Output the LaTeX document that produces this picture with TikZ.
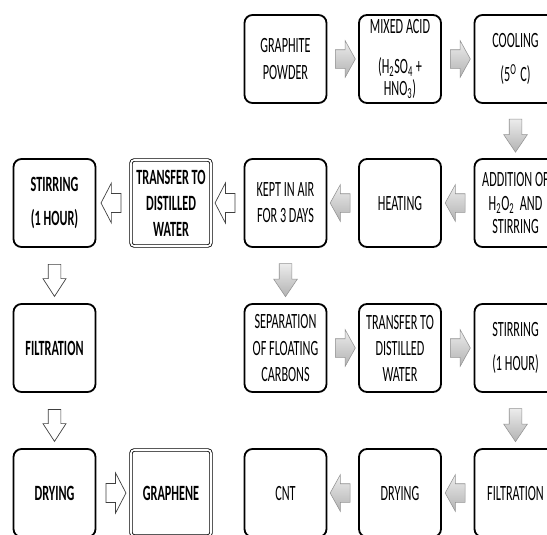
\documentclass[tikz,border=0pt]{standalone}
\usepackage{fontspec}
\setmainfont{Carlito}[FakeStretch=0.56]
\usepackage{tikz}
\usetikzlibrary{shapes.arrows,calc}
\tikzset{stage/.style={draw,line width=1.3pt,rounded corners=2mm,fill=white,minimum width=20.5mm,minimum height=22mm,align=center,inner sep=1pt,font=\fontsize{15.5}{18.5}\selectfont},result/.style={stage,font=\fontsize{15.5}{18.5}\selectfont\bfseries},framed/.style={result,line width=.6pt,double,double distance=1.2pt,rounded corners=.8mm,minimum width=20mm,minimum height=21.5mm},grayflow/.style={single arrow,draw=gray!85,top color=gray!15,bottom color=gray!60,inner xsep=0pt,inner ysep=2.25mm,single arrow head extend=2.25mm,single arrow tip angle=122,minimum height=5mm},grayfall/.style={grayflow,rotate=-90,inner ysep=1.5mm,single arrow head extend=1.4mm,single arrow tip angle=68,minimum height=8.25mm},plainflow/.style={single arrow,draw=black!75,fill=white,line width=.5pt,inner xsep=0pt,inner ysep=2.3mm,single arrow head extend=2.6mm,single arrow tip angle=125,minimum height=5mm},plainfall/.style={plainflow,rotate=-90,inner ysep=1.5mm,single arrow head extend=1.3mm,single arrow tip angle=66,minimum height=8mm}}
\begin{document}
\begin{tikzpicture}[x=0.25mm,y=-0.25mm]
\useasboundingbox (0,0) rectangle (547,534);
\clip (0,0) rectangle (547,534);
\node[stage] (graphite) at (285.5,59) {GRAPHITE\\POWDER};
\node[stage] (mixacid) at (400,59) {MIXED ACID\\[10pt](H\textsubscript{2}SO\textsubscript{4} +\\[-3pt]HNO\textsubscript{3})};
\node[stage] (cooling) at (515.5,59) {COOLING\\[6pt](5\textsuperscript{O}\,C)};
\node[stage] (addition) at (515.5,203) {ADDITION OF\\[-2pt]H\textsubscript{2}O\textsubscript{2}\ \ AND\\[-2pt]STIRRING};
\node[stage] (heating) at (400,203) {HEATING};
\node[stage] (keptair) at (285.5,203) {KEPT IN AIR\\FOR 3 DAYS};
\node[framed] (transfer) at (171,203) {TRANSFER TO\\DISTILLED\\WATER};
\node[result] (stirring) at (54.5,203) {STIRRING\\[6pt](1 HOUR)};
\node[result] (filtration) at (54.5,348) {FILTRATION};
\node[result] (drying) at (54.5,493) {DRYING};
\node[framed] (graphene) at (171,493) {GRAPHENE};
\node[stage] (separation) at (285.5,348) {SEPARATION\\OF FLOATING\\CARBONS};
\node[stage] (transferb) at (400,348) {TRANSFER TO\\DISTILLED\\WATER};
\node[stage] (stirringb) at (515.5,348) {STIRRING\\[6pt](1 HOUR)};
\node[stage] (filtrationb) at (515.5,493) {FILTRATION};
\node[stage] (dryingb) at (400,493) {DRYING};
\node[stage] (cnt) at (285.5,493) {CNT};
\node[grayflow] (g1) at ($(graphite.east)!.5!(mixacid.west)$) {};
\node[grayflow] (g2) at ($(mixacid.east)!.5!(cooling.west)$) {};
\node[grayfall] (g3) at ($(cooling.south)!.5!(addition.north)$) {};
\node[grayflow,rotate=180] (g4) at ($(addition.west)!.5!(heating.east)$) {};
\node[grayflow,rotate=180] (g5) at ($(heating.west)!.5!(keptair.east)$) {};
\node[grayfall] (g6) at ($(keptair.south)!.5!(separation.north)$) {};
\node[grayflow] (g7) at ($(separation.east)!.5!(transferb.west)$) {};
\node[grayflow] (g8) at ($(transferb.east)!.5!(stirringb.west)$) {};
\node[grayfall] (g9) at ($(stirringb.south)!.5!(filtrationb.north)$) {};
\node[grayflow,rotate=180] (g10) at ($(filtrationb.west)!.5!(dryingb.east)$) {};
\node[grayflow,rotate=180] (g11) at ($(dryingb.west)!.5!(cnt.east)$) {};
\node[plainflow,rotate=180] (w1) at ($(keptair.west)!.5!(transfer.east)$) {};
\node[plainflow,rotate=180] (w2) at ($(transfer.west)!.5!(stirring.east)$) {};
\node[plainfall] (w3) at ($(stirring.south)!.5!(filtration.north)$) {};
\node[plainfall] (w4) at ($(filtration.south)!.5!(drying.north)$) {};
\node[plainflow] (w5) at ($(drying.east)!.5!(graphene.west)$) {};
\end{tikzpicture}
\end{document}
